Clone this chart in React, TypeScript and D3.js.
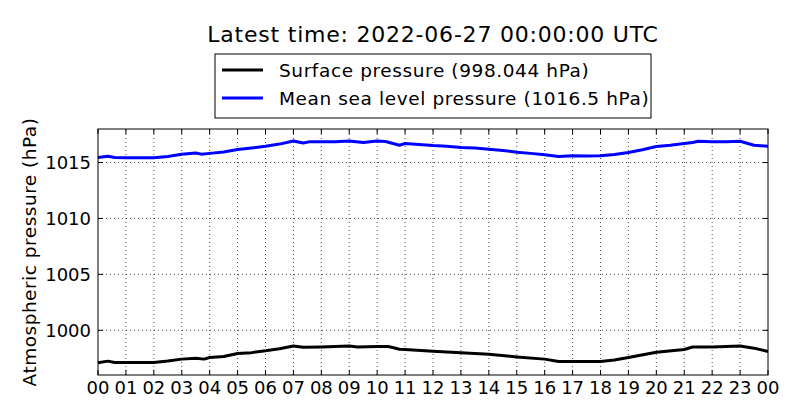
import * as d3 from 'd3';
import { type FC } from 'react';

// hours since 00 UTC, values in hPa
const mslpHours = [0, 0.35, 0.6, 1, 2, 2.5, 3, 3.5, 3.7, 4, 4.5, 5, 5.5, 6, 6.5, 7, 7.35, 7.6, 8, 8.5, 9, 9.5, 10, 10.3, 10.8, 11, 11.5, 12, 12.5, 13, 13.5, 14, 14.5, 15, 15.5, 16, 16.5, 17, 17.5, 18, 18.5, 19, 19.5, 20, 20.5, 21, 21.3, 21.5, 22, 22.5, 23, 23.5, 24];
const mslpValues = [1015.45, 1015.57, 1015.45, 1015.42, 1015.42, 1015.55, 1015.75, 1015.86, 1015.75, 1015.82, 1015.95, 1016.16, 1016.3, 1016.46, 1016.65, 1016.93, 1016.75, 1016.87, 1016.87, 1016.85, 1016.93, 1016.8, 1016.93, 1016.88, 1016.55, 1016.7, 1016.62, 1016.52, 1016.45, 1016.34, 1016.3, 1016.19, 1016.08, 1015.93, 1015.82, 1015.69, 1015.55, 1015.6, 1015.58, 1015.6, 1015.72, 1015.9, 1016.15, 1016.43, 1016.55, 1016.7, 1016.8, 1016.9, 1016.87, 1016.85, 1016.9, 1016.55, 1016.45];

const surfHours = [0, 0.35, 0.6, 1, 2, 2.5, 3, 3.5, 3.8, 4, 4.5, 5, 5.5, 6, 6.5, 7, 7.35, 8, 9, 9.3, 10, 10.4, 10.8, 11, 12, 13, 14, 15, 16, 16.5, 17, 18, 18.5, 19, 20, 21, 21.3, 22, 23, 23.5, 24];
const surfValues = [997.09, 997.24, 997.12, 997.12, 997.12, 997.25, 997.42, 997.5, 997.42, 997.56, 997.65, 997.92, 998.0, 998.16, 998.35, 998.6, 998.48, 998.51, 998.6, 998.5, 998.54, 998.55, 998.3, 998.28, 998.13, 997.98, 997.86, 997.62, 997.42, 997.21, 997.21, 997.21, 997.35, 997.56, 998.04, 998.28, 998.5, 998.5, 998.6, 998.4, 998.1];

const yTicks = [1000, 1005, 1010, 1015];
const hourTicks = d3.range(0, 25);
const hourLabels = hourTicks.map((h) => d3.format('02d')(h % 24));

const legendLabels = ['Surface pressure (998.044 hPa)', 'Mean sea level pressure (1016.5 hPa)'];
const legendColors = ['#000000', '#0000ff'];
const title = 'Latest time: 2022-06-27 00:00:00 UTC';

const width = 800;
const height = 420;
const marginTop = 129;
const marginRight = 32;
const marginBottom = 45;
const marginLeft = 98;
const font = 'DejaVu Sans';

const App: FC = () => {
  const x = d3.scaleLinear([0, 24], [marginLeft, width - marginRight]);
  const y = d3.scaleLinear([996, 1018], [height - marginBottom, marginTop]);

  const line = d3
    .line<[number, number]>()
    .x((d) => x(d[0]))
    .y((d) => y(d[1]));

  const surf = d3.zip(surfHours, surfValues) as [number, number][];
  const mslp = d3.zip(mslpHours, mslpValues) as [number, number][];

  const [x0, x1] = x.range();
  const [y0, y1] = y.range();
  const tick = 5;

  return (
    <svg
      width={width}
      height={height}
      viewBox={`0 0 ${width} ${height}`}
      style={{ position: 'absolute', left: 0, top: 0, background: '#fff' }}
      fontFamily={font}
    >
      <rect width={width} height={height} fill='#fff' />

      {/* grid */}
      <g stroke='#000' strokeWidth={0.7} strokeDasharray='1,3'>
        {hourTicks.slice(1, -1).map((h) => (
          <line key={h} x1={x(h)} x2={x(h)} y1={y0} y2={y1} />
        ))}
        {yTicks.map((v) => (
          <line key={v} x1={x0} x2={x1} y1={y(v)} y2={y(v)} />
        ))}
      </g>

      {/* series */}
      <path d={line(surf) ?? undefined} fill='none' stroke={legendColors[0]} strokeWidth={3} strokeLinejoin='round' />
      <path d={line(mslp) ?? undefined} fill='none' stroke={legendColors[1]} strokeWidth={3} strokeLinejoin='round' />

      {/* ticks, pointing inwards on all sides */}
      <g stroke='#000' strokeWidth={1}>
        {hourTicks.map((h) => (
          <g key={h}>
            <line x1={x(h)} x2={x(h)} y1={y0} y2={y0 - tick} />
            <line x1={x(h)} x2={x(h)} y1={y1} y2={y1 + tick} />
          </g>
        ))}
        {yTicks.map((v) => (
          <g key={v}>
            <line x1={x0} x2={x0 + tick} y1={y(v)} y2={y(v)} />
            <line x1={x1} x2={x1 - tick} y1={y(v)} y2={y(v)} />
          </g>
        ))}
      </g>

      <rect x={x0} y={y1} width={x1 - x0} height={y0 - y1} fill='none' stroke='#000' strokeWidth={1} />

      {/* tick labels */}
      <g fontSize={18} fill='#000'>
        {hourTicks.map((h, i) => (
          <text key={h} x={x(h)} y={y0 + 19} textAnchor='middle'>
            {hourLabels[i]}
          </text>
        ))}
        {yTicks.map((v) => (
          <text key={v} x={x0 - 7} y={y(v) + 6.5} textAnchor='end'>
            {v}
          </text>
        ))}
      </g>

      <text
        transform={`translate(36, ${(y0 + y1) / 2}) rotate(-90)`}
        textAnchor='middle'
        fontSize={18.5}
        letterSpacing={0.5}
      >
        Atmospheric pressure (hPa)
      </text>

      <text x={(x0 + x1) / 2} y={42} textAnchor='middle' fontSize={22} letterSpacing={0.78}>
        {title}
      </text>

      {/* legend */}
      <g>
        <rect x={215} y={54} width={436} height={64} fill='#fff' stroke='#000' strokeWidth={1} />
        {legendLabels.map((label, i) => (
          <g key={label} transform={`translate(222, ${70 + i * 28})`}>
            <line x1={0} x2={41} y1={0} y2={0} stroke={legendColors[i]} strokeWidth={2.8} />
            <text x={57} y={6.5} fontSize={18.5} letterSpacing={0.6}>
              {label}
            </text>
          </g>
        ))}
      </g>
    </svg>
  );
};

export default App;
